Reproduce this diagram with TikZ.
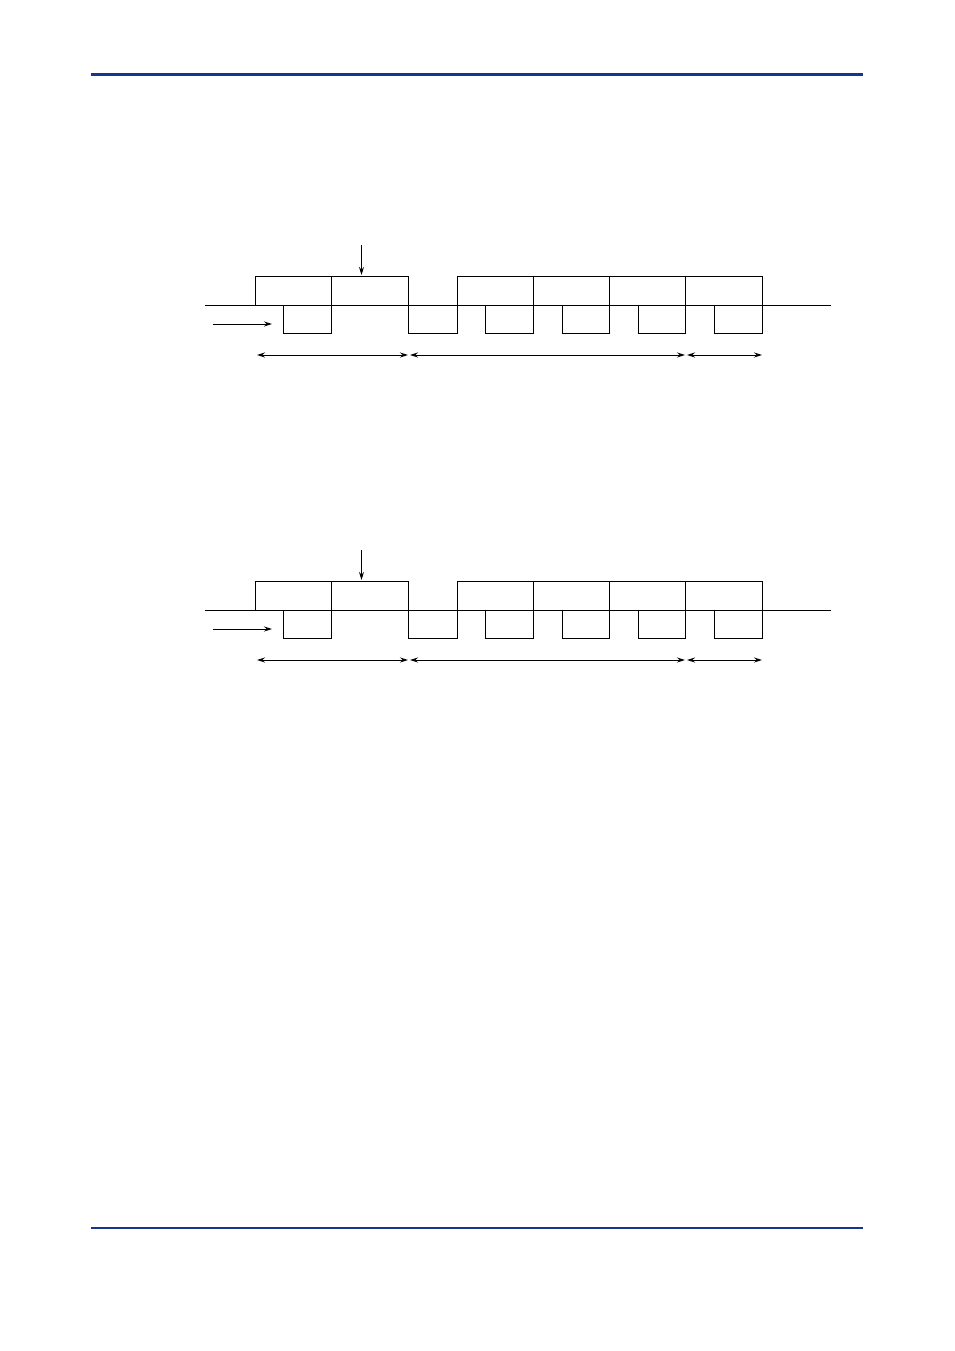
\documentclass[tikz,border=0pt]{standalone}
\usetikzlibrary{arrows.meta}
\definecolor{rule}{RGB}{22,52,148}
\begin{document}
\begin{tikzpicture}[x=1pt,y=-1pt,line width=1pt,
  sig/.style={draw=black,line width=1pt},
  tip/.style={-{Stealth[length=8pt,width=5pt]}},
  dbl/.style={{Stealth[length=8pt,width=5pt]}-{Stealth[length=8pt,width=5pt]}},
  hrule/.style={draw=rule,line width=3pt}]
\useasboundingbox (0,0) rectangle (954,1351);
\fill[white] (0,0) rectangle (954,1351);
\draw[hrule] (91,75) -- (863,75);
\draw[rule,line width=2.2pt] (91,1228) -- (863,1228);
\foreach \oy in {0,305}{
\begin{scope}[shift={(0,\oy)}]
  % baseline
  \draw[sig] (205,305) -- (831,305);
  % upper boxes
  \foreach \a/\b in {255/331,331/408,457/533,533/609,609/685.5,685.5/762}
    \draw[sig] (\a,305) rectangle (\b,276);
  % lower boxes
  \foreach \a/\b in {283/331,408/457,485.5/533,562/609,638/685.5,714/762}
    \draw[sig] (\a,305) rectangle (\b,333.5);
  % arrows
  \coordinate (dA) at (361.5,245);
  \coordinate (dB) at (361.5,275);
  \draw[sig,tip] (dA) -- (dB);
  \coordinate (rA) at (213,324);
  \coordinate (rB) at (272,324);
  \draw[sig,tip] (rA) -- (rB);
  \coordinate (s1) at (257,355);
  \coordinate (s2) at (408,355);
  \coordinate (s3) at (410,355);
  \coordinate (s4) at (685,355);
  \coordinate (s5) at (687,355);
  \coordinate (s6) at (762,355);
  \draw[sig,dbl] (s1) -- (s2);
  \draw[sig,dbl] (s3) -- (s4);
  \draw[sig,dbl] (s5) -- (s6);
\end{scope}}
\end{tikzpicture}
\end{document}
